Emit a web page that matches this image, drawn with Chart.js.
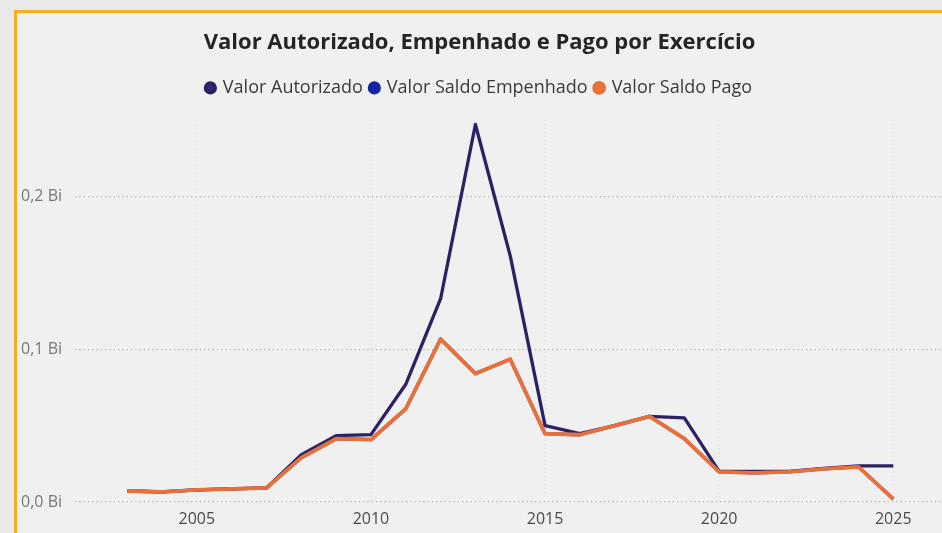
<!DOCTYPE html>
<html><head><meta charset="utf-8">
<script src="https://cdn.jsdelivr.net/npm/chart.js@4.4.0/dist/chart.umd.min.js"></script>
<style>
html,body{margin:0;padding:0;background:#e9e9e9;width:942px;height:533px;overflow:hidden;}
#box{position:absolute;left:14px;top:10px;width:925px;height:520px;border-top:3px solid #f2b020;border-left:3px solid #f2b020;background:#f0f0f0;}
canvas{display:block;}
</style></head><body>
<div id="box"><canvas id="c" width="925" height="520"></canvas></div>
<script>
const years = [2003,2004,2005,2006,2007,2008,2009,2010,2011,2012,2013,2014,2015,2016,2017,2018,2019,2020,2021,2022,2023,2024,2025];
const valorAutorizado = [0.0072,0.0066,0.0079,0.0086,0.0092,0.0309,0.0434,0.0441,0.077,0.133,0.247,0.161,0.050,0.0447,0.050,0.056,0.055,0.020,0.020,0.020,0.022,0.0237,0.0237];
const valorEmpenhado = [0.0072,0.0066,0.0079,0.0086,0.0092,0.029,0.0414,0.0408,0.061,0.1066,0.084,0.0934,0.0447,0.044,0.050,0.056,0.0414,0.0197,0.019,0.0197,0.0217,0.023,0.002];
const valorPago = [0.0072,0.0066,0.0079,0.0086,0.0092,0.029,0.0414,0.0408,0.061,0.1066,0.084,0.0934,0.0447,0.044,0.050,0.056,0.0414,0.0197,0.019,0.0197,0.0217,0.023,0.002];
const xTicks = [2005,2010,2015,2020,2025];
const yTicks = [0,0.1,0.2];
const toPts = arr => arr.map((v,i)=>({x:years[i], y:v}));
const FONT = "'Open Sans', 'Noto Sans', sans-serif";
const spacer = {id:'spacer', beforeInit(chart){
  Chart.layouts.addBox(chart, {position:'top', weight:-10, fullSize:true, options:{},
    isHorizontal(){return true;},
    getPadding(){return {top:0,left:0,right:0,bottom:0};},
    update(maxW){this.width=maxW; this.height=13; return {width:maxW,height:13};},
    draw(){}});
}};
new Chart(document.getElementById('c'), {
  type:'line',
  data:{datasets:[
    {label:'Valor Autorizado', data:toPts(valorAutorizado), borderColor:'#2b2163', backgroundColor:'#35266e', borderWidth:3.3, order:2},
    {label:'Valor Saldo Empenhado', data:toPts(valorEmpenhado), borderColor:'#1226a6', backgroundColor:'#1226a6', borderWidth:3.3, order:1},
    {label:'Valor Saldo Pago', data:toPts(valorPago), borderColor:'#e8713b', backgroundColor:'#ee7434', borderWidth:3.8, order:0}
  ]},
  options:{
    responsive:false, animation:false,
    elements:{point:{radius:0}, line:{tension:0, borderJoinStyle:'round'}},
    layout:{padding:{top:16.5,right:0,bottom:0,left:0}},
    plugins:{
      title:{display:true, text:'Valor Autorizado, Empenhado e Pago por Exercício', color:'#252525', font:{family:FONT, size:22, weight:'bold'}, padding:{top:0,bottom:15}},
      legend:{position:'top', labels:{usePointStyle:true, pointStyle:'circle', boxWidth:7, boxHeight:7, padding:8, color:'#3a3a3a', font:{family:FONT, size:18}, sort:(a,b)=>a.datasetIndex-b.datasetIndex}},
      tooltip:{enabled:false}
    },
    scales:{
      x:{type:'linear', min:2001.5, max:2026.4,
        afterBuildTicks:s=>{s.ticks = xTicks.map(v=>({value:v}));},
        ticks:{color:'#4a4a4a', font:{family:FONT, size:16}, padding:8, maxRotation:0, callback:v=>String(v)},
        grid:{color:'#dadada', lineWidth:1, drawTicks:false},
        border:{display:false, dash:[1,3]},
        afterFit:s=>{s.height=31;}
      },
      y:{min:0, max:0.25,
        afterBuildTicks:s=>{s.ticks = yTicks.map(v=>({value:v}));},
        ticks:{color:'#777', font:{family:FONT, size:16}, padding:13, callback:v=>v.toFixed(1).replace('.',',')+' Bi'},
        grid:{color:'#b5b5b5', lineWidth:1.3, drawTicks:false},
        border:{display:false, dash:[1.3,3]},
        afterFit:s=>{s.width=58;}
      }
    }
  },
  plugins:[spacer]
});
</script>
</body></html>
